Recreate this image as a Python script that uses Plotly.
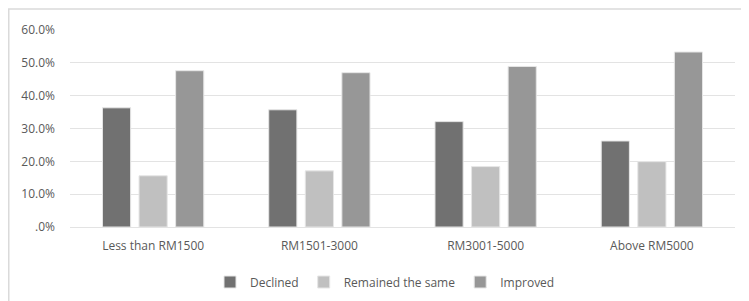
import plotly.graph_objects as go

categories = ["Less than RM1500", "RM1501-3000", "RM3001-5000", "Above RM5000"]
declined = [0.363, 0.357, 0.321, 0.262]
remained = [0.156, 0.171, 0.184, 0.199]
improved = [0.476, 0.470, 0.489, 0.533]
series_names = ["Declined", "Remained the same", "Improved"]
colors = ["#717171", "#c0c0c0", "#979797"]
tick_vals = [0, 0.1, 0.2, 0.3, 0.4, 0.5, 0.6]
tick_text = [".0%", "10.0%", "20.0%", "30.0%", "40.0%", "50.0%", "60.0%"]

fig = go.Figure()
for name, vals, col in zip(series_names, [declined, remained, improved], colors):
    fig.add_trace(go.Bar(
        x=categories, y=vals, name=name,
        marker=dict(color=col, line=dict(color="#e6e6e6", width=1)),
    ))

L, R, T, B = 62, 22, 22, 82
W, H = 749, 301
pw, ph = W - L - R, H - T - B

fig.update_layout(
    width=W, height=H,
    margin=dict(l=L, r=R, t=T, b=B, autoexpand=False),
    paper_bgcolor="white", plot_bgcolor="white",
    font=dict(family="Open Sans", size=12, color="#595959"),
    barmode="group", bargap=0.34, bargroupgap=0.23,
    showlegend=True,
    legend=dict(orientation="h", x=(377 - L) / pw, xanchor="center",
                y=(T + ph - 274) / ph, yanchor="middle",
                font=dict(size=12, color="#595959"), itemwidth=30,
                traceorder="normal"),
    xaxis=dict(showline=False, ticks="", showgrid=False, ticklabelstandoff=10),
    yaxis=dict(range=[0, 0.6], tickvals=tick_vals, ticktext=tick_text,
               showgrid=True, gridcolor="#e3e3e3", gridwidth=1,
               zeroline=True, zerolinecolor="#e3e3e3", zerolinewidth=1,
               showline=False, ticks="", ticklabelstandoff=14),
    shapes=[dict(type="rect", xref="paper", yref="paper",
                 x0=(0.75 - L) / pw, x1=(W + 20 - L) / pw,
                 y0=-1.0, y1=1 + (T - 1) / ph,
                 line=dict(color="#dadada", width=1.5), fillcolor="rgba(0,0,0,0)",
                 layer="below")],
)

fig.write_html("out.html")
